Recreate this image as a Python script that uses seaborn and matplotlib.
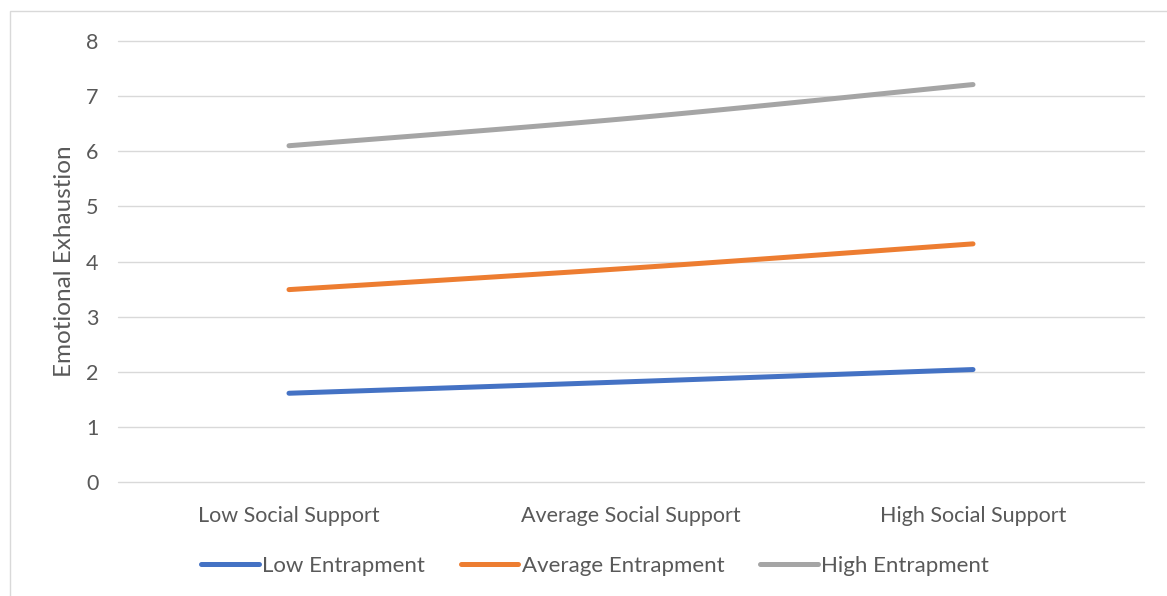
import numpy as np
import pandas as pd
import matplotlib
matplotlib.use("Agg")
import matplotlib.pyplot as plt
import seaborn as sns

categories = ["Low Social Support", "Average Social Support", "High Social Support"]
low_entrapment = [1.61, 1.82, 2.04]
average_entrapment = [3.49, 3.88, 4.32]
high_entrapment = [6.10, 6.60, 7.21]
series_names = ["Low Entrapment", "Average Entrapment", "High Entrapment"]
colors = ["#4472C4", "#ED7D31", "#A5A5A5"]
y_ticks = [0, 1, 2, 3, 4, 5, 6, 7, 8]

sns.set_theme(style="white")
plt.rcParams["font.family"] = ["Lato", "DejaVu Sans"]
text_color = "#595959"


def smooth(xs, ys, n=60):
    """Bezier smoothing through the points (Catmull-Rom style tangents)."""
    xs = np.asarray(xs, float)
    ys = np.asarray(ys, float)
    px = np.concatenate([[xs[0]], xs, [xs[-1]]])
    py = np.concatenate([[ys[0]], ys, [ys[-1]]])
    out_x, out_y = [], []
    t = np.linspace(0, 1, n)
    for i in range(1, len(px) - 2):
        p0 = np.array([px[i], py[i]])
        p3 = np.array([px[i + 1], py[i + 1]])
        c1 = p0 + (np.array([px[i + 1], py[i + 1]]) - np.array([px[i - 1], py[i - 1]])) / 6
        c2 = p3 - (np.array([px[i + 2], py[i + 2]]) - np.array([px[i], py[i]])) / 6
        b = ((1 - t) ** 3)[:, None] * p0 + (3 * (1 - t) ** 2 * t)[:, None] * c1 \
            + (3 * (1 - t) * t ** 2)[:, None] * c2 + (t ** 3)[:, None] * p3
        if i > 1:
            b = b[1:]
        out_x.extend(b[:, 0])
        out_y.extend(b[:, 1])
    return out_x, out_y


x_pos = np.arange(len(categories))
frames = []
for name, vals in zip(series_names, [low_entrapment, average_entrapment, high_entrapment]):
    sx, sy = smooth(x_pos, vals)
    frames.append(pd.DataFrame({"x": sx, "y": sy, "series": name}))
df = pd.concat(frames, ignore_index=True)

fig = plt.figure(figsize=(11.67, 5.96), dpi=100)
ax = fig.add_axes([118 / 1167, 1 - 482 / 596, (1144 - 118) / 1167, (482 - 41) / 596])

# chart-area border
fig.patches.append(plt.Rectangle((10 / 1167, -0.05), 1.2, 1 - 11 / 596 + 0.05,
                                 transform=fig.transFigure, fill=False,
                                 edgecolor="#D9D9D9", linewidth=1.0, zorder=0))

sns.lineplot(data=df, x="x", y="y", hue="series", hue_order=series_names,
             palette=colors, sort=False, estimator=None, units="series",
             linewidth=3.6, ax=ax, legend=False)
for line in ax.get_lines():
    line.set_solid_capstyle("round")

ax.set_xlim(-0.5, 2.5)
ax.set_ylim(0, 8)
ax.set_yticks(y_ticks)
ax.set_xticks(x_pos)
ax.set_xticklabels(categories)
ax.grid(axis="y", color="#D9D9D9", linewidth=1.0)
for gl in ax.get_ygridlines():
    gl.set_clip_on(False)
ax.set_axisbelow(True)
for s in ax.spines.values():
    s.set_visible(False)
ax.tick_params(axis="both", length=0, labelsize=15.5, colors=text_color)
ax.tick_params(axis="x", pad=17)
ax.tick_params(axis="y", pad=14)
ax.set_xlabel("")
ax.set_ylabel("Emotional Exhaustion", fontsize=17.5, color=text_color, labelpad=8)

handles = [plt.Line2D([], [], color=c, linewidth=3.6, solid_capstyle="round") for c in colors]
leg = fig.legend(handles, series_names, loc="center", bbox_to_anchor=(595 / 1167, 1 - 566 / 596),
                 ncol=3, frameon=False, fontsize=16, handlelength=2.6,
                 handletextpad=0.15, columnspacing=1.6, labelcolor=text_color)

fig.savefig("out.png", dpi=100)
